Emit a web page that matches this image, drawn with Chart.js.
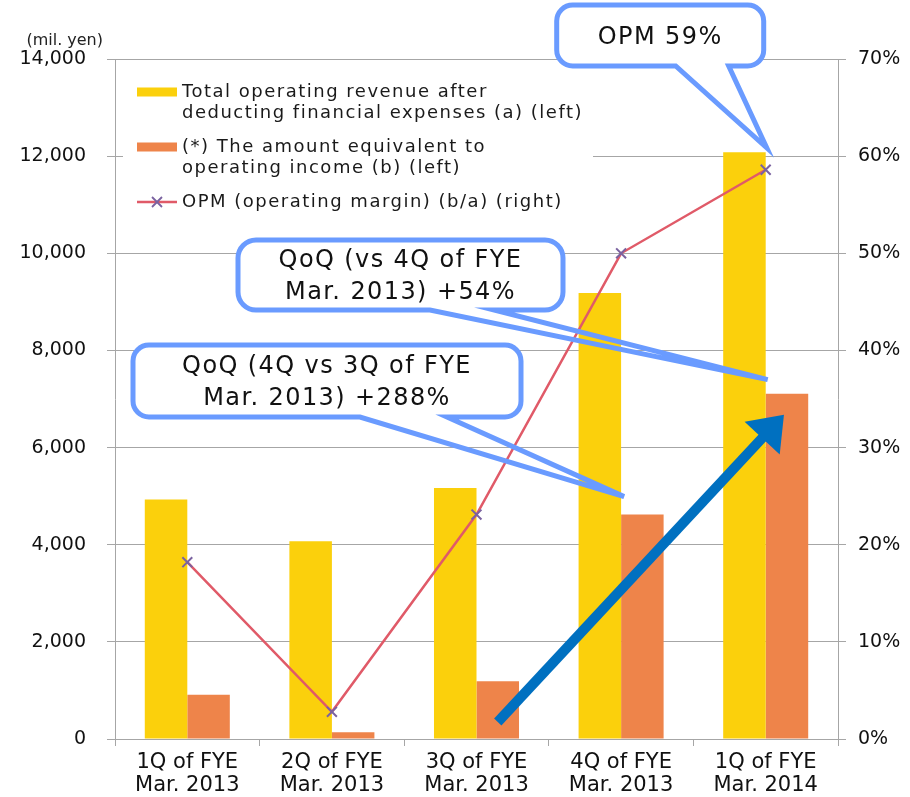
<!DOCTYPE html>
<html>
<head>
<meta charset="utf-8">
<script src="https://cdn.jsdelivr.net/npm/chart.js@4/dist/chart.umd.min.js"></script>
<style>
  html, body { margin: 0; padding: 0; background: #fff; }
  #wrap { width: 910px; height: 797px; position: relative; }
</style>
</head>
<body>
<div id="wrap"><canvas id="chart"></canvas></div>
<script>
// Quarterly results (million yen) and operating margin (%)
const quarters = [
  ['1Q of FYE', 'Mar. 2013'],
  ['2Q of FYE', 'Mar. 2013'],
  ['3Q of FYE', 'Mar. 2013'],
  ['4Q of FYE', 'Mar. 2013'],
  ['1Q of FYE', 'Mar. 2014']
];
const revenue = [4930, 4070, 5170, 9180, 12080];   // (a)
const opIncome = [910, 140, 1190, 4620, 7110];     // (b)
const opm = [18.2, 2.8, 23.1, 50.0, 58.6];         // (b/a) %

const revenueLabel = ['Total operating revenue after', 'deducting financial expenses (a) (left)'];
const incomeLabel = ['(*) The amount equivalent to', 'operating income (b) (left)'];
const opmLabel = ['OPM (operating margin) (b/a) (right)'];
const unitLabel = '(mil. yen)';

const leftMax = 14000, leftStep = 2000;
const rightMax = 70, rightStep = 10;

const FONT = '"DejaVu Sans", Verdana, sans-serif';
const GRID = '#a6a6a6';
const YELLOW = '#FBD00C';
const ORANGE = '#EE844A';
const LINE = '#E05A68';
const MARK = '#7A62A0';
const BUBBLE = '#6A9BFF';
const ARROW = '#0070C0';

function pct(v) { return Math.round(v) + '%'; }
const qoqLatest = Math.round((opIncome[4] / opIncome[3] - 1) * 100);
const qoqPrev = Math.round((opIncome[3] / opIncome[2] - 1) * 100);

function drawCross(ctx, x, y, r) {
  ctx.beginPath();
  ctx.moveTo(x - r, y - r); ctx.lineTo(x + r, y + r);
  ctx.moveTo(x + r, y - r); ctx.lineTo(x - r, y + r);
  ctx.stroke();
}

function boxPath(ctx, b, r) {
  ctx.beginPath();
  ctx.moveTo(b.l + r, b.t);
  ctx.lineTo(b.r - r, b.t);
  ctx.arcTo(b.r, b.t, b.r, b.t + r, r);
  ctx.lineTo(b.r, b.b - r);
  ctx.arcTo(b.r, b.b, b.r - r, b.b, r);
  ctx.lineTo(b.l + r, b.b);
  ctx.arcTo(b.l, b.b, b.l, b.b - r, r);
  ctx.lineTo(b.l, b.t + r);
  ctx.arcTo(b.l, b.t, b.l + r, b.t, r);
  ctx.closePath();
}

function calloutPath(ctx, b, r, baseL, baseR, tip) {
  ctx.beginPath();
  ctx.moveTo(b.l + r, b.t);
  ctx.lineTo(b.r - r, b.t);
  ctx.arcTo(b.r, b.t, b.r, b.t + r, r);
  ctx.lineTo(b.r, b.b - r);
  ctx.arcTo(b.r, b.b, b.r - r, b.b, r);
  ctx.lineTo(baseR, b.b);
  ctx.lineTo(tip.x, tip.y);
  ctx.lineTo(baseL, b.b);
  ctx.lineTo(b.l + r, b.b);
  ctx.arcTo(b.l, b.b, b.l, b.b - r, r);
  ctx.lineTo(b.l, b.t + r);
  ctx.arcTo(b.l, b.t, b.l + r, b.t, r);
  ctx.closePath();
}

function drawCallout(ctx, c) {
  ctx.save();
  boxPath(ctx, c.box, c.r);
  ctx.fillStyle = '#fff';
  ctx.fill();
  calloutPath(ctx, c.box, c.r, c.baseL, c.baseR, c.tip);
  ctx.strokeStyle = BUBBLE;
  ctx.lineWidth = 5;
  ctx.lineJoin = 'miter';
  ctx.stroke();
  ctx.fillStyle = '#111';
  ctx.font = `24px ${FONT}`;
  if ('letterSpacing' in ctx) ctx.letterSpacing = '1.4px';
  ctx.textAlign = 'center';
  ctx.textBaseline = 'middle';
  const cx = (c.box.l + c.box.r) / 2;
  const cy = (c.box.t + c.box.b) / 2 + 2;
  const n = c.lines.length;
  c.lines.forEach((t, i) => ctx.fillText(t, cx, cy + (i - (n - 1) / 2) * 32));
  ctx.restore();
}

function drawArrow(ctx, s, t, width, headLen, headHalf) {
  const dx = t.x - s.x, dy = t.y - s.y;
  const len = Math.hypot(dx, dy);
  const ux = dx / len, uy = dy / len;
  const bx = t.x - ux * headLen, by = t.y - uy * headLen;
  ctx.save();
  ctx.strokeStyle = ARROW;
  ctx.fillStyle = ARROW;
  ctx.lineWidth = width;
  ctx.lineCap = 'butt';
  ctx.beginPath();
  ctx.moveTo(s.x, s.y);
  ctx.lineTo(bx + ux * 2, by + uy * 2);
  ctx.stroke();
  ctx.beginPath();
  ctx.moveTo(t.x, t.y);
  ctx.lineTo(bx - uy * headHalf, by + ux * headHalf);
  ctx.lineTo(bx + uy * headHalf, by - ux * headHalf);
  ctx.closePath();
  ctx.fill();
  ctx.restore();
}

const overlay = {
  id: 'overlay',
  afterDraw(chart) {
    const { ctx, chartArea: ca, scales } = chart;
    const x = scales.x, y = scales.y, y2 = scales.y2;
    ctx.save();

    // unit caption above the left axis
    ctx.font = `16px ${FONT}`;
    ctx.fillStyle = '#222';
    ctx.textAlign = 'right';
    ctx.textBaseline = 'middle';
    ctx.fillText(unitLabel, ca.left - 12, ca.top - 18);

    // legend panel inside the plot
    ctx.fillStyle = '#fff';
    ctx.fillRect(ca.left + 8, ca.top + 13, 470, 150);
    const ds = chart.data.datasets;
    const order = [1, 2, 0];
    const lx = ca.left + 22;
    ctx.font = `18px ${FONT}`;
    if ('letterSpacing' in ctx) ctx.letterSpacing = '1.5px';
    ctx.textAlign = 'left';
    order.forEach((di, k) => {
      const d = ds[di];
      const y0 = ca.top + 33 + k * 55;
      if (d.type === 'line') {
        ctx.strokeStyle = d.borderColor;
        ctx.lineWidth = d.borderWidth;
        ctx.beginPath();
        ctx.moveTo(lx, y0); ctx.lineTo(lx + 40, y0);
        ctx.stroke();
        ctx.strokeStyle = MARK;
        ctx.lineWidth = 1.8;
        drawCross(ctx, lx + 20, y0, 5);
      } else {
        ctx.fillStyle = d.backgroundColor;
        ctx.fillRect(lx, y0 - 4.5, 40, 9);
      }
      ctx.fillStyle = '#1a1a1a';
      d.label.forEach((t, i) => ctx.fillText(t, lx + 45, y0 + i * 21));
    });
    if ('letterSpacing' in ctx) ctx.letterSpacing = '0px';

    // growth arrow from 3Q to latest operating income
    const inc = chart.getDatasetMeta(2).data;
    drawArrow(ctx,
      { x: inc[2].x, y: y.getPixelForValue(350) },
      { x: inc[4].x - 3, y: y.getPixelForValue(opIncome[4]) + 21 },
      10, 32, 24);

    const px3 = x.getPixelForValue(3), px4 = x.getPixelForValue(4);

    // callouts
    drawCallout(ctx, {
      box: { l: ca.left + 18, t: ca.top + 286, r: ca.left + 406, b: ca.top + 358 },
      r: 16, baseL: ca.left + 245, baseR: ca.left + 332,
      tip: { x: px3 + 3, y: y.getPixelForValue(opIncome[3]) - 18 },
      lines: ['QoQ (4Q vs 3Q of FYE', `Mar. 2013) +${qoqPrev}%`]
    });
    drawCallout(ctx, {
      box: { l: ca.left + 123, t: ca.top + 181, r: ca.left + 448, b: ca.top + 251 },
      r: 18, baseL: ca.left + 315, baseR: ca.left + 379,
      tip: { x: px4 + 2, y: y.getPixelForValue(opIncome[4]) - 14 },
      lines: ['QoQ (vs 4Q of FYE', `Mar. 2013) +${qoqLatest}%`]
    });
    drawCallout(ctx, {
      box: { l: px4 - 209, t: 5, r: px4 - 2, b: 66 },
      r: 16, baseL: px4 - 90, baseR: px4 - 37,
      tip: { x: px4 + 1, y: y2.getPixelForValue(opm[4]) - 22 },
      lines: ['OPM ' + pct(opm[4])]
    });

    ctx.restore();
  }
};

new Chart(document.getElementById('chart'), {
  data: {
    labels: quarters,
    datasets: [
      {
        type: 'line',
        label: opmLabel,
        data: opm,
        yAxisID: 'y2',
        borderColor: LINE,
        borderWidth: 2.5,
        tension: 0,
        pointStyle: 'crossRot',
        pointRadius: 7,
        pointBorderColor: MARK,
        pointBorderWidth: 2,
        order: 0
      },
      {
        type: 'bar',
        label: revenueLabel,
        data: revenue,
        yAxisID: 'y',
        backgroundColor: YELLOW,
        borderWidth: 0,
        order: 1
      },
      {
        type: 'bar',
        label: incomeLabel,
        data: opIncome,
        yAxisID: 'y',
        backgroundColor: ORANGE,
        borderWidth: 0,
        order: 1
      }
    ]
  },
  options: {
    responsive: true,
    maintainAspectRatio: false,
    animation: false,
    datasets: { bar: { categoryPercentage: 0.588, barPercentage: 1.0 } },
    layout: { padding: { top: 59, left: 0, right: 0, bottom: 0 } },
    plugins: { legend: { display: false }, tooltip: { enabled: false } },
    scales: {
      x: {
        offset: true,
        grid: { offset: true, drawOnChartArea: false, drawTicks: true, tickLength: 7, color: GRID },
        border: { display: true, color: GRID },
        ticks: { color: '#111', padding: 6, font: { family: FONT, size: 21, lineHeight: 1.05 }, maxRotation: 0 },
        afterFit(s) { s.height = 58; }
      },
      y: {
        position: 'left',
        min: 0, max: leftMax,
        grid: { color: GRID, tickLength: 8 },
        border: { display: true, color: GRID },
        ticks: {
          stepSize: leftStep, padding: 21, color: '#111',
          font: { family: FONT, size: 19 },
          callback: v => v.toLocaleString('en-US')
        },
        afterFit(s) { s.width = 115; }
      },
      y2: {
        position: 'right',
        min: 0, max: rightMax,
        grid: { drawOnChartArea: false, color: GRID, tickLength: 8 },
        border: { display: true, color: GRID },
        ticks: {
          stepSize: rightStep, padding: 12, color: '#111',
          font: { family: FONT, size: 19 },
          callback: v => v + '%'
        },
        afterFit(s) { s.width = 72; }
      }
    }
  },
  plugins: [overlay]
});
</script>
</body>
</html>
